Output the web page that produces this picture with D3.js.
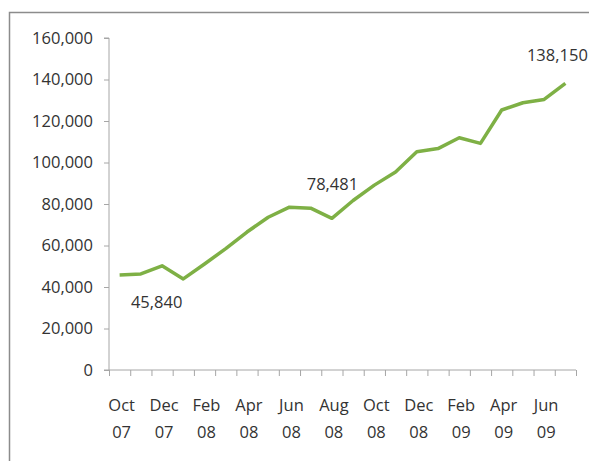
<!DOCTYPE html>
<html>
<head>
<meta charset="utf-8">
<script src="https://cdn.jsdelivr.net/npm/d3@7"></script>
<style>
  html, body { margin: 0; padding: 0; background: #fff; }
  svg { display: block; font-family: "Open Sans", sans-serif; }
</style>
</head>
<body>
<svg id="chart" width="589" height="461"></svg>
<script>
// Monthly values, Oct 07 - Jul 09
const months = ['Oct 07', 'Nov 07', 'Dec 07', 'Jan 08', 'Feb 08', 'Mar 08', 'Apr 08', 'May 08',
  'Jun 08', 'Jul 08', 'Aug 08', 'Sep 08', 'Oct 08', 'Nov 08', 'Dec 08', 'Jan 09',
  'Feb 09', 'Mar 09', 'Apr 09', 'May 09', 'Jun 09', 'Jul 09'];
const values = [45840, 46300, 50200, 43900, 51100, 58500, 66500, 73600,
  78481, 78000, 73100, 81700, 89100, 95400, 105200, 106700,
  111900, 109200, 125300, 128800, 130400, 138150];
const yTicks = [0, 20000, 40000, 60000, 80000, 100000, 120000, 140000, 160000];
// which points get a value label
const labelIndex = [0, 8, 21];

const svg = d3.select('#chart');
const plotLeft = 109, plotRight = 576, plotTop = 38, plotBottom = 370;

// frame around the chart area
svg.append('rect')
  .attr('x', 9.5).attr('y', 12.5)
  .attr('width', 620).attr('height', 480)
  .attr('fill', 'none')
  .attr('stroke', '#8c8c8c')
  .attr('stroke-width', 1.5);

const x = d3.scaleLinear().domain([0, months.length]).range([plotLeft, plotRight]);
const y = d3.scaleLinear().domain([0, 160000]).range([plotBottom, plotTop]);

// y axis
const yAxis = svg.append('g')
  .attr('transform', `translate(${plotLeft},0)`)
  .call(d3.axisLeft(y).tickValues(yTicks).tickSize(5).tickPadding(11)
    .tickFormat(d3.format(',')));
yAxis.select('.domain').attr('stroke', '#a6a6a6').attr('d', `M-5,${plotTop}H0V${plotBottom}H-5`);
yAxis.selectAll('.tick line').attr('stroke', '#a6a6a6');
yAxis.selectAll('.tick text')
  .attr('fill', '#333')
  .attr('font-size', '16.5px')
  .attr('font-family', '"Open Sans", sans-serif');

// x axis: tick marks between months
const xAxis = svg.append('g')
  .attr('transform', `translate(0,${plotBottom})`)
  .call(d3.axisBottom(x).tickValues(d3.range(months.length + 1)).tickSize(6).tickFormat(''));
xAxis.select('.domain').attr('stroke', '#a6a6a6').attr('d', `M${plotLeft},0H${plotRight}`);
xAxis.selectAll('.tick line').attr('stroke', '#a6a6a6');

// two-line month labels, every other month
const xLabels = svg.append('g')
  .selectAll('text')
  .data(months.filter((m, i) => i % 2 === 0))
  .join('text')
  .attr('x', d => x(months.indexOf(d) + 0.5) + 2)
  .attr('text-anchor', 'middle')
  .attr('fill', '#333')
  .attr('font-size', '16.5px');
xLabels.append('tspan').attr('y', 411).text(d => d.split(' ')[0]);
xLabels.append('tspan').attr('x', function() { return this.parentNode.getAttribute('x'); })
  .attr('y', 438).text(d => d.split(' ')[1]);

// line
const line = d3.line()
  .x((d, i) => x(i + 0.5))
  .y(d => y(d));

svg.append('path')
  .datum(values)
  .attr('fill', 'none')
  .attr('stroke', '#7eb045')
  .attr('stroke-width', 3.5)
  .attr('stroke-linejoin', 'round')
  .attr('d', line);

// value labels
const labelOffset = { 0: [37, 33], 8: [43, -17], 21: [-8, -22] };
svg.append('g')
  .selectAll('text')
  .data(labelIndex)
  .join('text')
  .attr('x', i => x(i + 0.5) + labelOffset[i][0])
  .attr('y', i => y(values[i]) + labelOffset[i][1])
  .attr('text-anchor', 'middle')
  .attr('fill', '#333')
  .attr('font-size', '16.5px')
  .text(i => d3.format(',')(values[i]));
</script>
</body>
</html>
